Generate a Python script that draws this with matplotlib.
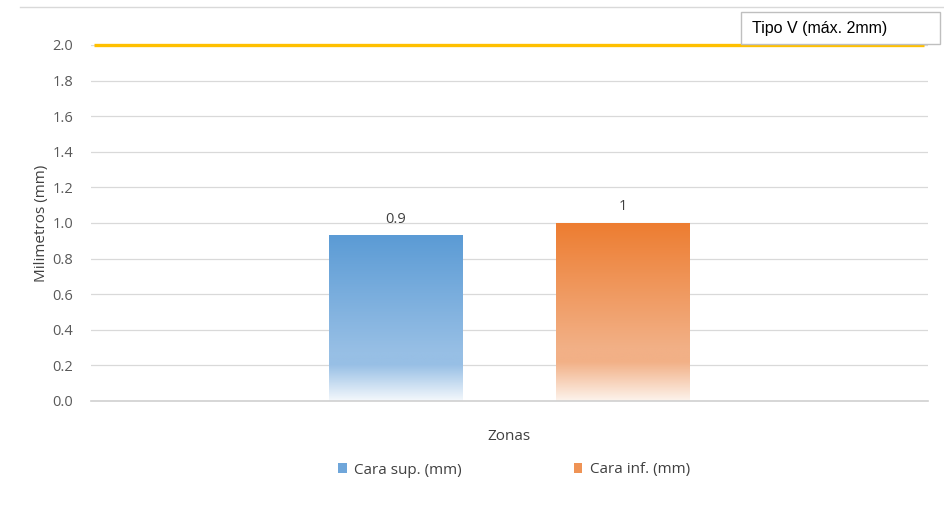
import numpy as np
import matplotlib.pyplot as plt
from matplotlib.colors import LinearSegmentedColormap
from matplotlib.patches import Rectangle
from matplotlib.lines import Line2D

series = ["Cara sup. (mm)", "Cara inf. (mm)"]
values = [0.93, 1.0]
value_labels = ["0.9", "1"]
limit_label = "Tipo V (máx. 2mm)"
limit_value = 2.0
yticks = [0.0, 0.2, 0.4, 0.6, 0.8, 1.0, 1.2, 1.4, 1.6, 1.8, 2.0]

top_colors = ["#5B9BD5", "#ED7D31"]
mid_colors = ["#97BFE5", "#F2B086"]
low_colors = ["#F4F8FC", "#FDF3EC"]
key_colors = ["#6FA6DA", "#EF9355"]

plt.rcParams['font.family'] = ['Open Sans', 'DejaVu Sans']

fig = plt.figure(figsize=(9.44, 5.14), dpi=100)
ax = fig.add_axes([91/944, 1-401/514, 837/944, (401-45)/514])

width = 0.16
offsets = [-0.136, 0.136]
handles = []
for i in range(len(series)):
    x0 = offsets[i] - width/2
    v = values[i]
    rect = Rectangle((x0, 0), width, v, facecolor="none", edgecolor="none")
    ax.add_patch(rect)
    cmap = LinearSegmentedColormap.from_list(
        "g%d" % i, [(0, low_colors[i]), (0.22, mid_colors[i]), (0.3, mid_colors[i]), (1, top_colors[i])])
    grad = np.linspace(0, 1, 256).reshape(-1, 1)
    im = ax.imshow(grad, cmap=cmap, aspect="auto", origin="lower",
                   extent=[x0, x0 + width, 0, v], zorder=2)
    im.set_clip_path(rect)
    ax.text(offsets[i], v + 0.05, value_labels[i], ha="center", va="bottom",
            fontsize=10.5, color="#404040")
    handles.append(Rectangle((0, 0), 1, 1, facecolor=key_colors[i], edgecolor="none"))

ax.set_aspect("auto")
ax.set_xlim(-0.5, 0.5)
ax.set_ylim(0, 2.0)

# limit line
ax.plot([-0.497, 0.495], [limit_value, limit_value], color="#FFC000", lw=2.4, zorder=3,
        clip_on=False, solid_capstyle="butt")

ax.set_yticks(yticks)
ax.set_yticklabels(["%.1f" % t for t in yticks])
ax.grid(axis="y", color="#D9D9D9", lw=0.9)
ax.set_axisbelow(True)
ax.tick_params(axis="y", length=0, labelsize=10.5, labelcolor="#595959", pad=13)
ax.tick_params(axis="x", length=0, labelbottom=False)
for s in ["top", "right", "left"]:
    ax.spines[s].set_visible(False)
ax.spines["bottom"].set_color("#D0D0D0")
ax.spines["bottom"].set_linewidth(1.2)

ax.set_ylabel("Milimetros (mm)", fontsize=11, color="#404040", labelpad=2)
fig.text(509/944, 1-437/514, "Zonas", ha="center", va="center", fontsize=11, color="#404040")

fig.legend(handles, series, loc="center", bbox_to_anchor=(514/944, 1-470/514), ncol=2,
           frameon=False, fontsize=11, handlelength=0.55, handleheight=0.55,
           handletextpad=0.5, columnspacing=7.3, labelcolor="#404040")

# limit legend box
fig.patches.append(Rectangle((741/944, 1-44/514), 199/944, 32/514, transform=fig.transFigure,
                             facecolor="white", edgecolor="#BFBFBF", lw=1.0, zorder=5))
fig.text(752/944, 1-28/514, limit_label, ha="left", va="center", fontsize=11.5,
         family=["Liberation Sans", "DejaVu Sans"], color="#000000", zorder=6)

# remnant axis line at the very top
fig.add_artist(Line2D([20/944, 1.0], [1-7/514, 1-7/514], color="#D9D9D9", lw=1.0))

fig.savefig("out.png", dpi=100, facecolor="white")
